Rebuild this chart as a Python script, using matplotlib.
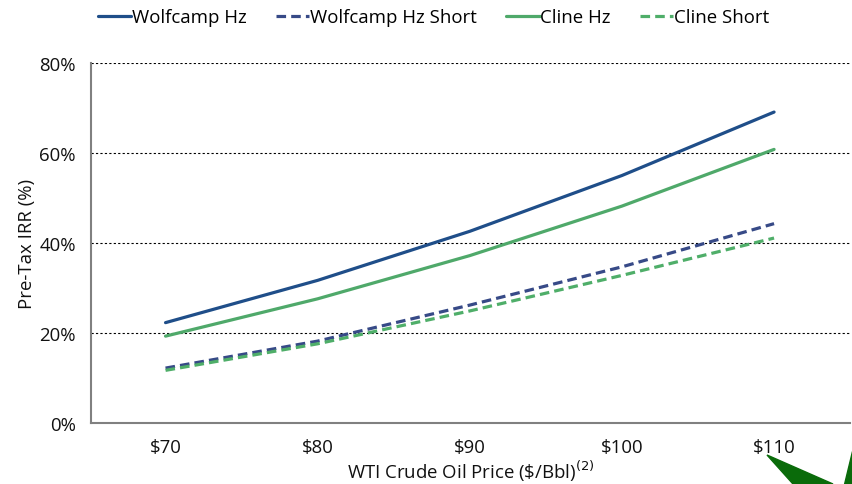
import matplotlib.pyplot as plt
from matplotlib.patches import Polygon

# Dane
prices = ['$70', '$80', '$90', '$100', '$110']
wolfcamp_hz = [22.3, 31.7, 42.6, 55.0, 69.1]
wolfcamp_hz_short = [12.2, 18.2, 26.2, 34.7, 44.3]
cline_hz = [19.3, 27.6, 37.2, 48.2, 60.8]
cline_short = [11.7, 17.6, 24.9, 32.8, 41.1]
y_ticks = [0, 20, 40, 60, 80]

plt.rcParams['font.family'] = ['Open Sans', 'DejaVu Sans']
fs = 13.4

fig = plt.figure(figsize=(8.52, 4.85), dpi=100)
ax = fig.add_axes([0.1068, 0.1258, 0.891, 0.7422])

x = range(len(prices))
ax.plot(x, wolfcamp_hz, color='#1f4e89', lw=2.3, solid_capstyle='round', label='Wolfcamp Hz')
ax.plot(x, wolfcamp_hz_short, color='#374a87', lw=2.3, ls=(0, (3.0, 1.6)), label='Wolfcamp Hz Short')
ax.plot(x, cline_hz, color='#4fa96a', lw=2.3, solid_capstyle='round', label='Cline Hz')
ax.plot(x, cline_short, color='#4fae69', lw=2.3, ls=(0, (3.0, 1.6)), label='Cline Short')

ax.set_xlim(-0.49, 4.5)
ax.set_ylim(0, 80)
ax.set_xticks(list(x))
ax.set_xticklabels(prices)
ax.set_yticks(y_ticks)
ax.set_yticklabels([f'{v}%' for v in y_ticks])
ax.tick_params(length=0, labelsize=fs, colors='#111111')
ax.tick_params(axis='x', pad=11)
ax.tick_params(axis='y', pad=11)

for v in y_ticks[1:]:
    ax.axhline(v, color='black', lw=0.8, ls=(0, (2, 2)), zorder=0)

for s in ['top', 'right']:
    ax.spines[s].set_visible(False)
for s in ['left', 'bottom']:
    ax.spines[s].set_color('#808080')
    ax.spines[s].set_linewidth(1.5)

ax.set_ylabel('Pre-Tax IRR (%)', fontsize=fs, color='#111111', labelpad=2)
ax.set_xlabel(r'WTI Crude Oil Price (\$/Bbl)$^{(2)}$', fontsize=fs, color='#111111', labelpad=1)

fig.legend(loc='upper center', bbox_to_anchor=(0.509, 1.015), ncol=4, frameon=False,
           fontsize=fs, handlelength=1.8, handletextpad=0.05, columnspacing=1.55)

# zielony element logo w prawym dolnym rogu
fig.patches.append(Polygon([(767 / 852, 29 / 485), (833 / 852, 0), (793 / 852, 0)],
                           closed=True, color='#0a6b0a', transform=fig.transFigure))
fig.patches.append(Polygon([(852 / 852, 33 / 485), (852 / 852, 0), (844 / 852, 0)],
                           closed=True, color='#0a6b0a', transform=fig.transFigure))

fig.savefig('out.png', dpi=100)
